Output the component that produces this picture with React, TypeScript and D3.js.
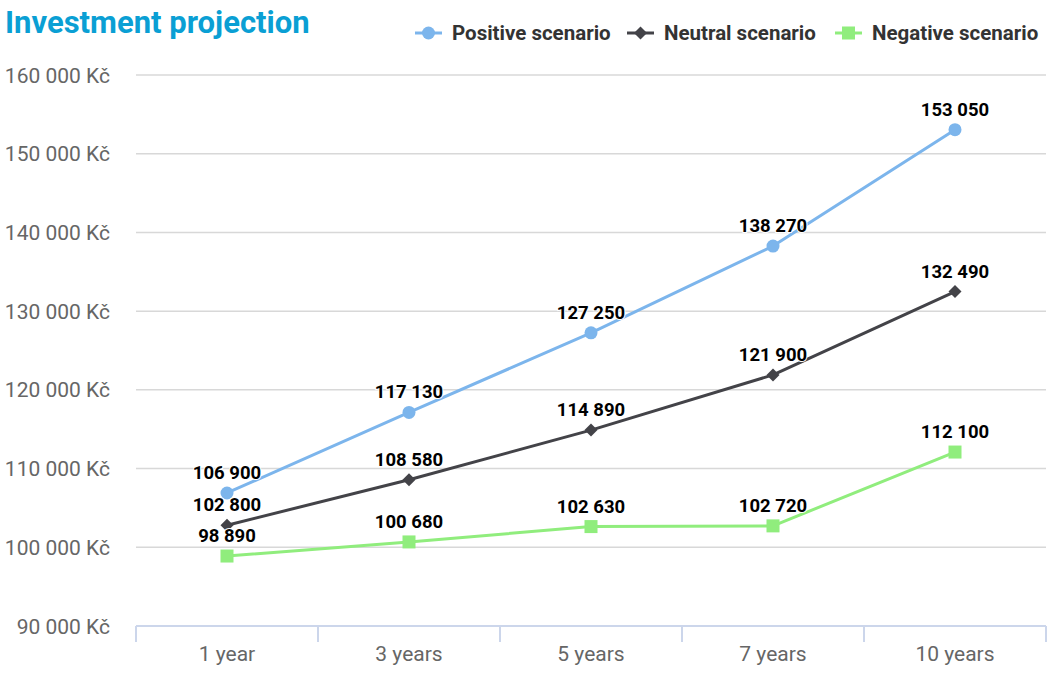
import { useEffect, useRef } from 'react';
import * as d3 from 'd3';

const categories = ['1 year', '3 years', '5 years', '7 years', '10 years'];
const positive = [106900, 117130, 127250, 138270, 153050];
const neutral = [102800, 108580, 114890, 121900, 132490];
const negative = [98890, 100680, 102630, 102720, 112100];
const yTicks = [90000, 100000, 110000, 120000, 130000, 140000, 150000, 160000];

const series = [
  { name: 'Positive scenario', values: positive, color: '#7cb5ec', symbol: 'circle' },
  { name: 'Neutral scenario', values: neutral, color: '#434348', symbol: 'diamond' },
  { name: 'Negative scenario', values: negative, color: '#90ed7d', symbol: 'square' },
];

const W = 1056;
const H = 676;
const FONT = 'Roboto, "Noto Sans", sans-serif';

const fmt = (v: number) => d3.format(',')(v).replace(/,/g, ' ');

function drawSymbol(g: d3.Selection<SVGGElement, unknown, null, undefined>, kind: string, cx: number, cy: number, color: string) {
  if (kind === 'circle') {
    g.append('circle').attr('cx', cx).attr('cy', cy).attr('r', 6.5).attr('fill', color);
  } else if (kind === 'diamond') {
    const s = 6.5;
    g.append('path')
      .attr('d', `M${cx},${cy - s}L${cx + s},${cy}L${cx},${cy + s}L${cx - s},${cy}Z`)
      .attr('fill', color);
  } else {
    const s = 6.5;
    g.append('rect').attr('x', cx - s).attr('y', cy - s).attr('width', 2 * s).attr('height', 2 * s).attr('fill', color);
  }
}

export default function App() {
  const svgRef = useRef<SVGSVGElement>(null);

  useEffect(() => {
    document.body.style.margin = '0';
    if (!svgRef.current) return;
    const svg = d3.select(svgRef.current);
    svg.selectAll('*').remove();

    const left = 136;
    const right = 1046;
    const top = 75;
    const bottom = 626;

    const x = d3.scaleBand().domain(categories).range([left, right]);
    const y = d3.scaleLinear().domain([90000, 160000]).range([bottom, top]);

    // title
    svg.append('text')
      .attr('x', 5)
      .attr('y', 33)
      .attr('font-family', FONT)
      .attr('font-size', 31)
      .attr('font-weight', 700)
      .attr('fill', '#0a9fd4')
      .text('Investment projection');

    // grid
    const grid = svg.append('g');
    grid.selectAll('line')
      .data(yTicks.filter((t) => t > 90000))
      .enter()
      .append('line')
      .attr('x1', left)
      .attr('x2', right)
      .attr('y1', (d) => y(d))
      .attr('y2', (d) => y(d))
      .attr('stroke', '#d8d8d8')
      .attr('stroke-width', 1.5);

    // y labels
    svg.append('g')
      .selectAll('text')
      .data(yTicks)
      .enter()
      .append('text')
      .attr('x', 110)
      .attr('y', (d) => y(d) + 7.5)
      .attr('text-anchor', 'end')
      .attr('font-family', FONT)
      .attr('font-size', 21)
      .attr('fill', '#666666')
      .text((d) => `${fmt(d)} Kč`);

    // x axis
    const xa = svg.append('g');
    xa.append('line')
      .attr('x1', left)
      .attr('x2', right)
      .attr('y1', bottom)
      .attr('y2', bottom)
      .attr('stroke', '#ccd6eb')
      .attr('stroke-width', 2);
    const edges = categories.map((c) => x(c)!).concat([right]);
    xa.selectAll('line.tick')
      .data(edges)
      .enter()
      .append('line')
      .attr('class', 'tick')
      .attr('x1', (d) => d)
      .attr('x2', (d) => d)
      .attr('y1', bottom)
      .attr('y2', bottom + 16)
      .attr('stroke', '#ccd6eb')
      .attr('stroke-width', 2);
    xa.selectAll('text')
      .data(categories)
      .enter()
      .append('text')
      .attr('x', (d) => x(d)! + x.bandwidth() / 2)
      .attr('y', 661)
      .attr('text-anchor', 'middle')
      .attr('font-family', FONT)
      .attr('font-size', 21)
      .attr('fill', '#666666')
      .text((d) => d);

    const cx = (i: number) => x(categories[i])! + x.bandwidth() / 2;

    // lines + markers
    series.forEach((s) => {
      const line = d3.line<number>().x((_, i) => cx(i)).y((d) => y(d));
      const g = svg.append('g');
      g.append('path')
        .attr('d', line(s.values))
        .attr('fill', 'none')
        .attr('stroke', s.color)
        .attr('stroke-width', 3)
        .attr('stroke-linejoin', 'round');
      s.values.forEach((v, i) => drawSymbol(g, s.symbol, cx(i), y(v), s.color));
    });

    // data labels
    series.forEach((s) => {
      svg.append('g')
        .selectAll('text')
        .data(s.values)
        .enter()
        .append('text')
        .attr('x', (_, i) => cx(i))
        .attr('y', (d) => y(d) - 14)
        .attr('text-anchor', 'middle')
        .attr('font-family', FONT)
        .attr('font-size', 18.5)
        .attr('font-weight', 700)
        .attr('fill', '#000000')
        .attr('stroke', '#ffffff')
        .attr('stroke-width', 2)
        .attr('paint-order', 'stroke')
        .text((d) => fmt(d));
    });

    // legend
    const legendX = [415, 627, 835];
    series.forEach((s, i) => {
      const g = svg.append('g');
      const lx = legendX[i];
      g.append('line')
        .attr('x1', lx)
        .attr('x2', lx + 27)
        .attr('y1', 33)
        .attr('y2', 33)
        .attr('stroke', s.color)
        .attr('stroke-width', 3);
      drawSymbol(g, s.symbol, lx + 13.5, 33, s.color);
      g.append('text')
        .attr('x', lx + 37)
        .attr('y', 40)
        .attr('font-family', FONT)
        .attr('font-size', 20.5)
        .attr('font-weight', 700)
        .attr('fill', '#333333')
        .text(s.name);
    });
  }, []);

  return <svg ref={svgRef} width={W} height={H} style={{ display: 'block' }} />;
}
